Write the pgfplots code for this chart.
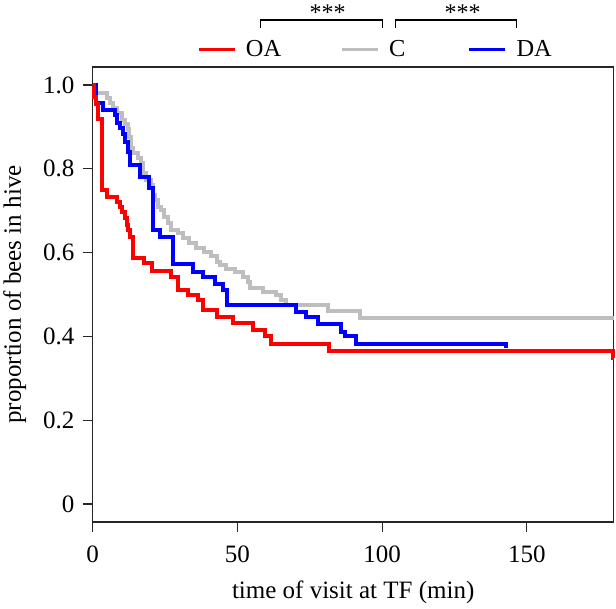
\documentclass[border=0pt]{standalone}
\usepackage{fontspec}
\setmainfont{Liberation Serif}
\usepackage{pgfplots}
\usepackage{pgfplotstable}
\pgfplotsset{compat=1.18}
\definecolor{cgray}{RGB}{190,190,190}
\definecolor{cred}{RGB}{255,0,0}
\definecolor{cblue}{RGB}{0,0,255}
\newcommand{\tl}[1]{\textrm{\fontsize{12.5}{15}\selectfont #1}}

\pgfplotstableread{
t p
0 1.0
0.5 0.972
1.2 0.955
2.0 0.92
3.3 0.749
4.8 0.733
8.3 0.721
9.4 0.710
10.2 0.698
11.1 0.682
11.7 0.666
12.3 0.654
12.9 0.638
13.8 0.588
17.6 0.575
20.5 0.556
27.2 0.542
29.5 0.511
33.0 0.499
36.4 0.487
38.1 0.463
42.8 0.447
48.5 0.431
55.4 0.415
59.4 0.400
61.7 0.382
81.8 0.365
179.6 0.348
180 0.348
}\tabOA

\pgfplotstableread{
t p
0 1.0
0.6 0.980
4.8 0.968
5.9 0.956
7.1 0.944
8.3 0.932
10.0 0.916
11.1 0.908
12.3 0.896
12.7 0.875
13.2 0.850
13.9 0.837
15.6 0.825
16.7 0.813
17.3 0.789
18.4 0.773
20.1 0.761
21.0 0.737
21.6 0.726
22.4 0.710
23.6 0.702
24.7 0.686
25.9 0.670
27.0 0.654
29.4 0.646
31.1 0.636
33.1 0.624
35.7 0.612
38.6 0.602
40.9 0.592
42.9 0.578
44.0 0.570
46.2 0.562
49.1 0.554
51.9 0.542
53.7 0.530
54.2 0.515
58.8 0.507
63.4 0.499
65.2 0.487
66.9 0.475
81.2 0.461
92.2 0.443
180 0.443
}\tabC

\pgfplotstableread{
t p
0 1.0
1.0 0.956
3.7 0.940
7.7 0.928
8.3 0.909
9.4 0.897
10.6 0.884
11.1 0.865
12.3 0.841
12.9 0.809
16.3 0.781
19.4 0.753
20.8 0.654
23.2 0.638
27.8 0.572
34.7 0.554
38.1 0.542
42.2 0.526
45.0 0.511
46.4 0.475
70.3 0.459
73.8 0.447
77.8 0.430
85.9 0.411
87.0 0.400
91.0 0.382
142.8 0.372
}\tabDA

\begin{document}
\fontsize{12}{14.4}\selectfont
\begin{tikzpicture}
\begin{axis}[
  scale only axis,
  width=260.5pt, height=227.5pt,
  xmin=0, xmax=180, ymin=-0.043, ymax=1.043,
  xtick={0,50,100,150},
  xticklabels={\tl{0},\tl{50},\tl{100},\tl{150}},
  ytick={0,0.2,0.4,0.6,0.8,1.0},
  yticklabels={\tl{0},\tl{0.2},\tl{0.4},\tl{0.6},\tl{0.8},\tl{1.0}},
  tick align=outside, major tick length=5pt,
  xtick pos=bottom, ytick pos=left,
  axis line style={line width=0.6pt, black!85},
  every tick/.style={black!85, line width=0.6pt},
  /pgf/number format/assume math mode=true,
  xticklabel style={anchor=north, yshift=-2.5pt},
  yticklabel style={anchor=east},
  label style={font=\fontsize{12.5}{15}\selectfont},
  clip=false,
  xlabel={time of visit at TF (min)},
  ylabel={proportion of bees in hive},
  xlabel style={at={(rel axis cs:0.5,-0.169)}, anchor=base},
  ylabel style={at={(rel axis cs:-0.138,0.5)}, anchor=base},
  legend columns=3,
  legend style={at={(rel axis cs:0.2021,1.0374)}, anchor=west,
    draw=none, fill=none, inner sep=0pt, outer sep=0pt,
    nodes={inner sep=0pt, outer sep=0pt},
    font=\fontsize{12.2}{14.4}\selectfont,
    column sep=0pt,
    /tikz/column 1/.style={column sep=4.5pt},
    /tikz/column 2/.style={column sep=29.5pt},
    /tikz/column 3/.style={column sep=5pt},
    /tikz/column 4/.style={column sep=31pt},
    /tikz/column 5/.style={column sep=5pt}},
  legend image code/.code={\draw[#1, line width=1.5pt] (0pt,0pt) -- (18pt,0pt);},
]
\addlegendimage{cred}
\addlegendentry{OA}
\addlegendimage{cgray}
\addlegendentry{C}
\addlegendimage{cblue}
\addlegendentry{DA}

\addplot[const plot, cgray, line width=2pt, forget plot] table[x=t,y=p] {\tabC};
\addplot[const plot, cblue, line width=2pt, forget plot] table[x=t,y=p] {\tabDA};
\addplot[const plot, cred, line width=2pt, forget plot] table[x=t,y=p] {\tabOA};

\draw[line width=0.6pt] (rel axis cs:0.3222,1.085) -- (rel axis cs:0.3222,1.1033) -- (rel axis cs:0.5567,1.1033) -- (rel axis cs:0.5567,1.085);
\draw[line width=0.6pt] (rel axis cs:0.5817,1.085) -- (rel axis cs:0.5817,1.1033) -- (rel axis cs:0.8139,1.1033) -- (rel axis cs:0.8139,1.085);
\node[anchor=base, inner sep=0pt] at (rel axis cs:0.4507,1.102) {***};
\node[anchor=base, inner sep=0pt] at (rel axis cs:0.7098,1.102) {***};
\coordinate (O) at (rel axis cs:0,0);
\end{axis}
\pgfresetboundingbox
\path[use as bounding box] ([shift={(-46.35pt,-43.5pt)}]O) rectangle ([shift={(261.65pt,261pt)}]O);
\end{tikzpicture}
\end{document}
